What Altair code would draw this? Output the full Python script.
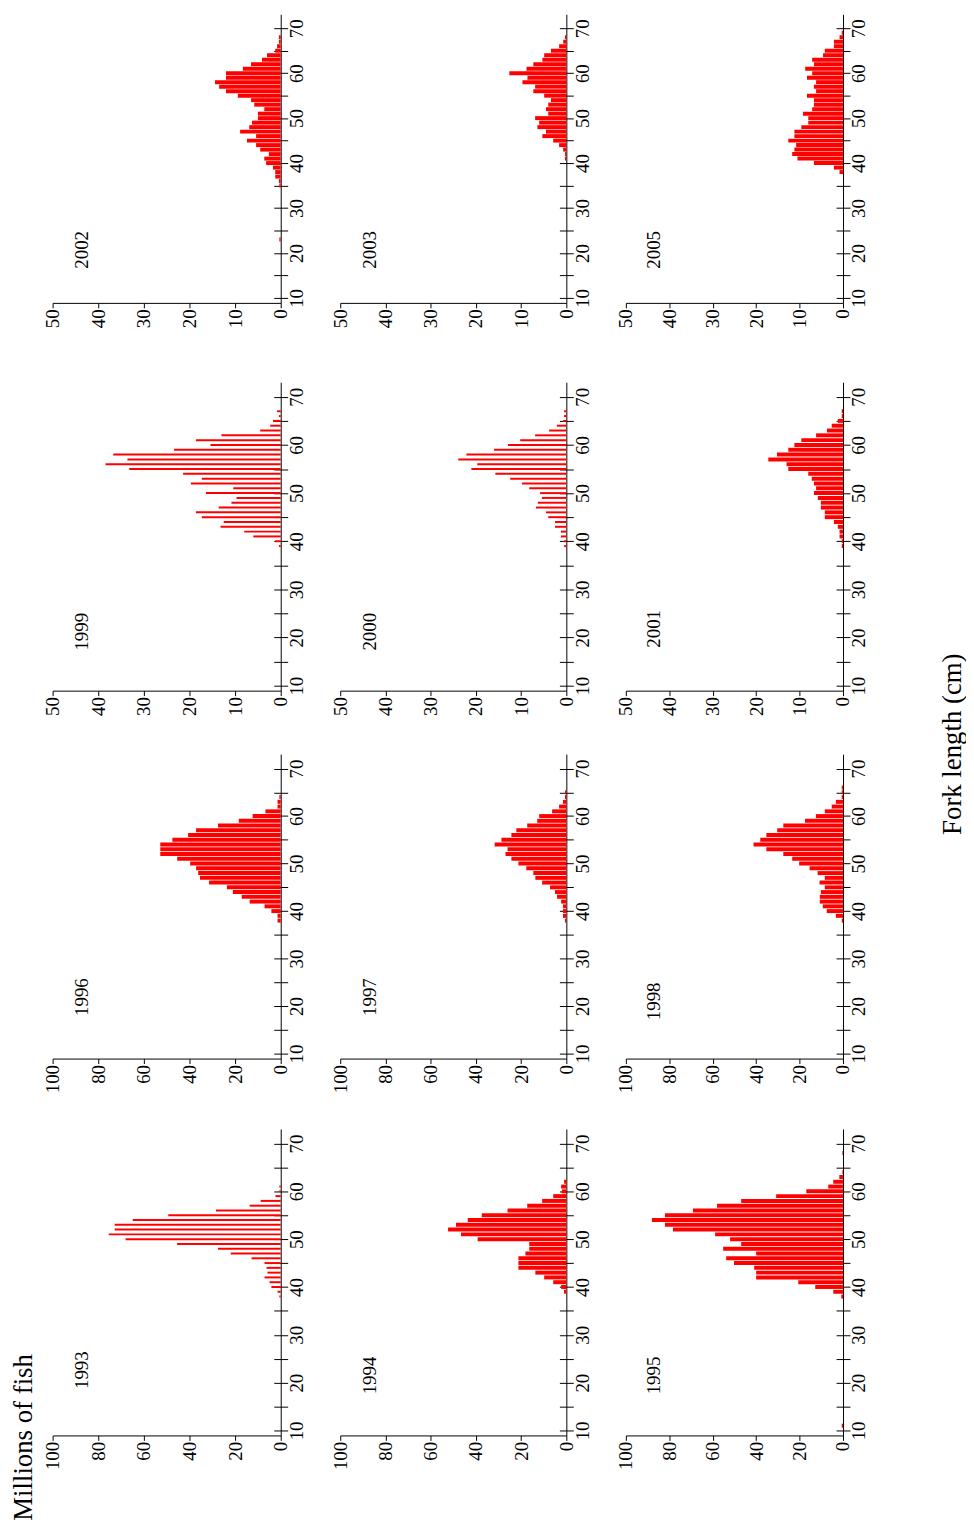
import altair as alt
import pandas as pd

FONT = "Liberation Serif"
RED = "#ff0000"

# ---- data: millions of fish by fork length (cm); lengths run downward from the top value ----
top1993 = 61
v1993 = [0.6, 0.6, 2.3, 8.8, 13.6, 28.4, 49.3, 64.9, 72.8, 72.8, 75.4, 68.0, 45.4, 27.5,
         21.9, 12.8, 7.1, 6.2, 5.8, 7.1, 4.9, 4.1, 1.4, 0.6]
top1994 = 62
v1994 = [1.0, 2.3, 2.0, 5.8, 10.7, 17.3, 26.0, 37.4, 43.6, 48.8, 52.3, 46.6, 39.2, 16.4,
         16.4, 18.1, 21.2, 21.2, 21.2, 13.7, 9.8, 5.8, 2.3, 1.0]
top1995 = 64
v1995 = [0.3, 1.7, 4.5, 6.8, 16.9, 30.8, 46.9, 58.0, 69.1, 82.0, 88.0, 82.0, 78.3, 58.9,
         52.0, 46.9, 55.2, 40.0, 53.8, 50.2, 40.9, 40.0, 40.0, 20.6, 12.8, 4.5, 0.8]
extra1995_len = [68, 11]
extra1995_val = [0.3, 0.6]
top1996 = 64
v1996 = [0.6, 1.4, 1.4, 6.7, 12.3, 18.4, 27.5, 37.1, 40.6, 47.5, 52.8, 52.8, 52.8, 45.4,
         39.7, 37.1, 36.2, 35.4, 31.4, 23.6, 21.0, 17.1, 13.6, 7.1, 4.1, 1.4, 1.4]
top1997 = 65
v1997 = [0.6, 0.6, 1.5, 3.2, 6.3, 12.0, 12.9, 17.3, 22.1, 24.3, 28.7, 31.7, 26.0, 26.9,
         24.3, 21.2, 17.7, 14.6, 13.7, 10.7, 7.2, 5.0, 4.1, 2.3, 1.5, 1.5, 1.5, 0.6]
top1998 = 66
v1998 = [0.6, 0.6, 0.6, 3.3, 5.2, 8.4, 12.5, 17.5, 27.5, 30.3, 35.3, 38.1, 41.2, 35.3,
         27.5, 23.4, 20.2, 15.4, 11.7, 8.4, 10.8, 8.4, 10.2, 10.7, 10.7, 9.3, 7.5, 3.3, 0.6]
top1999 = 67
v1999 = [0.8, 0.4, 1.7, 2.3, 4.5, 13.0, 18.6, 15.4, 23.4, 36.7, 33.6, 38.4, 33.2, 21.4,
         17.3, 19.7, 10.4, 16.4, 9.7, 10.8, 13.6, 18.6, 17.3, 12.5, 13.2, 8.0, 6.0, 1.2, 0.4]
top2000 = 67
v2000 = [0.5, 0.5, 0.7, 2.1, 3.8, 6.9, 10.2, 12.9, 16.0, 22.1, 23.9, 19.7, 21.0, 15.7,
         12.4, 9.8, 8.2, 5.8, 5.4, 6.3, 6.7, 4.5, 4.0, 2.5, 2.5, 1.2, 1.2, 0.5, 0.5]
top2001 = 67
v2001 = [0.3, 0.3, 1.2, 2.6, 3.7, 6.2, 9.6, 11.2, 12.6, 15.2, 17.2, 13.0, 12.6, 8.0,
         7.2, 6.7, 6.2, 6.7, 5.8, 5.1, 5.1, 4.2, 4.2, 2.1, 1.2, 0.8, 0.8, 0.3, 0.3]
top2002 = 68
v2002 = [0.4, 0.4, 0.8, 1.2, 3.0, 4.1, 6.5, 8.3, 12.0, 12.0, 14.4, 13.5, 12.0, 9.4,
         6.5, 5.8, 3.6, 5.0, 5.0, 6.3, 6.9, 8.9, 5.4, 7.4, 5.4, 4.5, 2.6, 3.6, 3.2,
         1.7, 1.2, 1.2, 0.4, 0.3]
extra2002_len = [23]
extra2002_val = [0.3]
top2003 = 68
v2003 = [0.3, 0.7, 1.6, 3.4, 4.9, 5.3, 7.3, 8.8, 12.6, 8.6, 9.7, 6.9, 7.3, 4.9,
         3.4, 4.0, 4.5, 4.0, 6.9, 6.0, 6.4, 4.5, 5.3, 2.9, 1.6, 0.7, 0.3, 0.3]
top2005 = 69
v2005 = [0.3, 0.8, 2.1, 2.1, 4.2, 4.6, 7.1, 6.7, 8.7, 7.1, 8.3, 6.2, 6.7, 6.2,
         8.3, 6.7, 6.7, 7.1, 9.2, 8.0, 8.0, 9.6, 11.2, 11.2, 12.6, 10.8, 11.2, 11.7,
         10.5, 6.7, 2.1, 0.8]

fork_ticks = [10, 15, 20, 25, 30, 35, 40, 45, 50, 55, 60, 65, 70]
ticks50 = [0, 10, 20, 30, 40, 50]
ticks100 = [0, 20, 40, 60, 80, 100]

LABEL_SIZE = 19
YEAR_SIZE = 19
TITLE_SIZE = 27


def frame(top, vals, extra_len=None, extra_val=None):
    lens = [top - i for i in range(len(vals))]
    vs = list(vals)
    if extra_len:
        lens += list(extra_len)
        vs += list(extra_val)
    return pd.DataFrame({"L": lens, "v": vs})


def panel(year, df, xmax, xticks, w, h, size, year_at, ymax=72.0, ymin=10.0):
    xs = alt.Scale(domain=[0, xmax], reverse=True, nice=False, zero=True)
    ys = alt.Scale(domain=[ymin, ymax], nice=False, zero=False)
    xaxis = alt.Axis(values=xticks, format="d", orient="bottom", labelAngle=270,
                     labelAlign="right", labelBaseline="middle", labelPadding=1,
                     tickSize=5, grid=False, title=None, labelFont=FONT,
                     labelFontSize=LABEL_SIZE, labelColor="black", domainColor="black",
                     tickColor="black", labelOverlap=False, labelFlush=False)
    yaxis = alt.Axis(values=fork_ticks, orient="right", labelAngle=270,
                     labelExpr="datum.value % 10 == 0 ? datum.label : ''",
                     labelAlign="center", labelBaseline="top", labelPadding=0,
                     tickSize=7, grid=False, title=None, labelFont=FONT,
                     labelFontSize=LABEL_SIZE, labelColor="black", domainColor="black",
                     tickColor="black", labelOverlap=False, labelFlush=False)
    bars = alt.Chart(df).mark_bar(color=RED, orient="horizontal", size=size).encode(
        x=alt.X("v:Q", scale=xs, axis=xaxis),
        x2=alt.X2Datum(0),
        y=alt.Y("L:Q", scale=ys, axis=yaxis),
    )
    # inward half of the crossing tick marks
    in_ticks = alt.Chart(df).mark_point(opacity=0).encode(
        y=alt.Y("L:Q", scale=ys, axis=alt.Axis(values=fork_ticks, orient="left", offset=-w,
                                                labels=False, domain=False, tickSize=7,
                                                tickColor="black", grid=False, title=None)),
    )
    label = alt.Chart(pd.DataFrame({"t": [str(year)]})).mark_text(
        angle=270, font=FONT, fontSize=YEAR_SIZE, color="black").encode(
        text="t:N",
        x=alt.XDatum(xmax * 0.87, axis=None),
        y=alt.YDatum(year_at, axis=None),
    )
    return alt.layer(bars, in_ticks, label).resolve_axis(
        x="independent", y="independent").properties(width=w, height=h)


def spacer(w, h):
    return alt.Chart(pd.DataFrame({"a": [0]})).mark_point(opacity=0).encode(
        x=alt.value(0), y=alt.value(0)).properties(width=w, height=h)


W = [230, 228, 219]

p2002 = panel(2002, frame(top2002, v2002, extra2002_len, extra2002_val), 50, ticks50, W[0], 291, 4, 20.7)
p2003 = panel(2003, frame(top2003, v2003), 50, ticks50, W[1], 291, 4, 20.7)
p2005 = panel(2005, frame(top2005, v2005), 50, ticks50, W[2], 291, 4, 20.7)
p1999 = panel(1999, frame(top1999, v1999), 50, ticks50, W[0], 311, 2, 21.2)
p2000 = panel(2000, frame(top2000, v2000), 50, ticks50, W[1], 311, 2, 21.2)
p2001 = panel(2001, frame(top2001, v2001), 50, ticks50, W[2], 311, 4, 21.8)
p1996 = panel(1996, frame(top1996, v1996), 100, ticks100, W[0], 307, 4, 21.9)
p1997 = panel(1997, frame(top1997, v1997), 100, ticks100, W[1], 307, 4, 21.9)
p1998 = panel(1998, frame(top1998, v1998), 100, ticks100, W[2], 307, 4, 21.0)
p1993 = panel(1993, frame(top1993, v1993), 100, ticks100, W[0], 309, 2, 22.6)
p1994 = panel(1994, frame(top1994, v1994), 100, ticks100, W[1], 309, 4, 21.5)
p1995 = panel(1995, frame(top1995, v1995, extra1995_len, extra1995_val), 100, ticks100, W[2], 309, 4, 21.5)

ylab = alt.Chart(pd.DataFrame({"t": ["Millions of fish"]})).mark_text(
    angle=270, font=FONT, fontSize=TITLE_SIZE, color="black").encode(
    text="t:N", x=alt.value(-29), y=alt.value(311))
p1993 = alt.layer(p1993, ylab)

xlab = alt.Chart(pd.DataFrame({"t": ["Fork length (cm)"]})).mark_text(
    angle=270, font=FONT, fontSize=TITLE_SIZE, color="black").encode(
    text="t:N", x=alt.value(330), y=alt.value(365))
p2001 = alt.layer(p2001, xlab)

cells = [p2002, p2003, p2005,
         spacer(W[0], 80), spacer(W[1], 80), spacer(W[2], 80),
         p1999, p2000, p2001,
         spacer(W[0], 64), spacer(W[1], 64), spacer(W[2], 64),
         p1996, p1997, p1998,
         spacer(W[0], 71), spacer(W[1], 71), spacer(W[2], 71),
         p1993, p1994, p1995]

chart = alt.concat(*cells, columns=3, spacing=alt.RowColnumber(row=0, column=60),
                   bounds="flush", align="each").properties(
    padding={"left": 2, "top": 0, "right": 0, "bottom": 0}).configure_view(stroke=None)

chart.save("out.html", embed_options={"renderer": "svg", "actions": False})
